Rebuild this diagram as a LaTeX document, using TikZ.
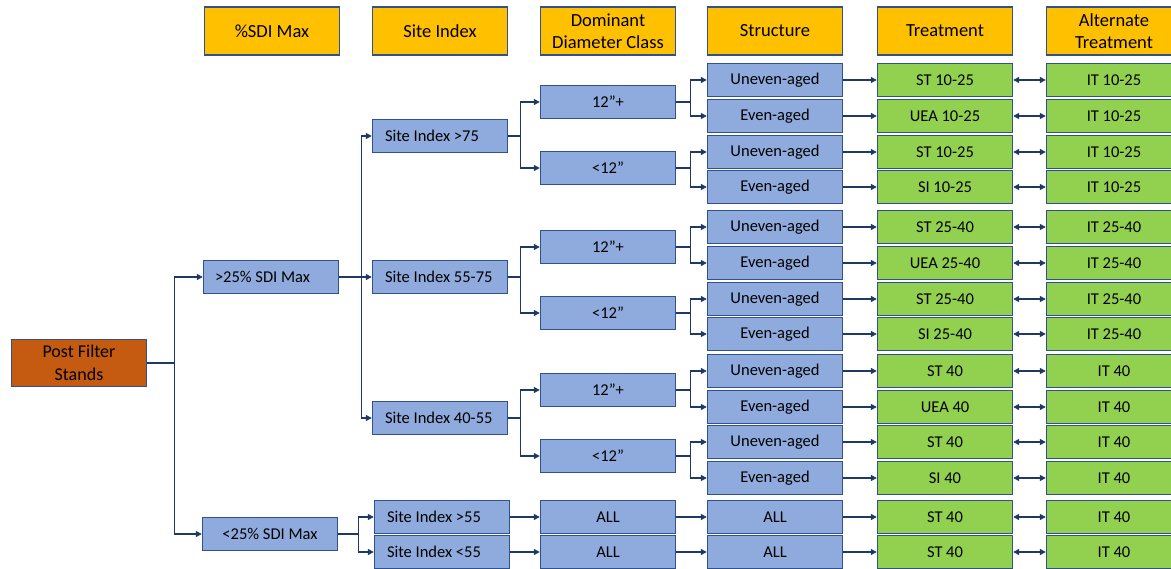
\documentclass[tikz,border=0pt]{standalone}
\usepackage{fontspec}
\setmainfont{Carlito}
\usepackage{xcolor}
\definecolor{hdrGold}{HTML}{FFC000}
\definecolor{boxLine}{HTML}{2F528F}
\definecolor{boxBlue}{HTML}{8FAADC}
\definecolor{boxGreen}{HTML}{92D050}
\definecolor{rust}{HTML}{C55A11}
\definecolor{arrNavy}{HTML}{203864}
\usetikzlibrary{arrows.meta,positioning}

\begin{document}
\begin{tikzpicture}[
  x=1pt,y=-1pt,
  box/.style={draw=boxLine,line width=1.4pt,fill=boxBlue,minimum width=135pt,minimum height=33pt,inner sep=0pt,align=center,font=\fontsize{16.5}{19}\selectfont},
  leftbox/.style={box,text width=110pt,align=flush left},
  hdr/.style={box,fill=hdrGold,minimum height=48pt,font=\fontsize{18.5}{22.5}\selectfont},
  trt/.style={box,fill=boxGreen},
  arr/.style={-{Triangle[length=6pt,width=6pt]},line width=1.3pt,draw=arrNavy},
  dbl/.style={{Triangle[length=6pt,width=6pt]}-{Triangle[length=6pt,width=6pt]},line width=1.3pt,draw=arrNavy}
]
\clip (0,0) rectangle (1171,569);
\node[hdr] (h1) at (272,31) {\%SDI Max};
\node[hdr] (h2) at (440,31) {Site Index};
\node[hdr] (h3) at (608,31) {Dominant\\Diameter Class};
\node[hdr] (h4) at (775,31) {Structure};
\node[hdr] (h5) at (945,31) {Treatment};
\node[hdr] (h6) at (1114,31) {Alternate\\Treatment};

\node[box,fill=rust,minimum height=47pt,font=\fontsize{18}{22.5}\selectfont] (post) at (79,363) {Post Filter\\Stands};
\node[leftbox,text width=112pt] (gt) at (271,277) {>25\% SDI Max};
\node[box] (lt) at (270,534) {<25\% SDI Max};

\node[leftbox] (si1) at (440,136) {Site Index >75};
\node[leftbox] (si2) at (440,277) {Site Index 55-75};
\node[leftbox] (si3) at (440,418) {Site Index 40-55};
\node[leftbox] (si4) at (442,517) {Site Index >55};
\node[leftbox] (si5) at (442,552) {Site Index <55};

\foreach \y/\dc [count=\i] in {102/12”+,168/<12”,247/12”+,313/<12”,390/12”+,456/<12”,517/ALL,552/ALL}
  \node[box] (d\i) at (608,\y) {\dc};

\foreach \y/\st/\tr/\al [count=\i] in {80/Uneven-aged/ST 10-25/IT 10-25,116/Even-aged/UEA 10-25/IT 10-25,
  152/Uneven-aged/ST 10-25/IT 10-25,187/Even-aged/SI 10-25/IT 10-25,227/Uneven-aged/ST 25-40/IT 25-40,
  263/Even-aged/UEA 25-40/IT 25-40,299/Uneven-aged/ST 25-40/IT 25-40,334/Even-aged/SI 25-40/IT 25-40,
  371/Uneven-aged/ST 40/IT 40,407/Even-aged/UEA 40/IT 40,442/Uneven-aged/ST 40/IT 40,
  478/Even-aged/SI 40/IT 40,517/ALL/ST 40/IT 40,552/ALL/ST 40/IT 40}{
  \node[box] (s\i) at (775,\y) {\st};
  \node[trt] (t\i) at (945,\y) {\tr};
  \node[trt] (a\i) at (1114,\y) {\al};
  \draw[arr] (s\i) -- (t\i);
  \draw[dbl] (t\i) -- (a\i);
}

\draw[arr] (post.east) -- ++(27,0) |- (gt.west);
\draw[arr] (post.east) -- ++(27,0) |- (lt.west);
\draw[arr] (gt) -- (si2);
\draw[arr] (gt.east) -- ++(22,0) |- (si1.west);
\draw[arr] (gt.east) -- ++(22,0) |- (si3.west);
\draw[arr] (lt.east) -- ++(20,0) |- (si4.west);
\draw[arr] (lt.east) -- ++(20,0) |- (si5.west);
\foreach \a/\b/\c in {si1/d1/d2,si2/d3/d4,si3/d5/d6}{
  \draw[arr] (\a.east) -- ++(12,0) |- (\b.west);
  \draw[arr] (\a.east) -- ++(12,0) |- (\c.west);
}
\draw[arr] (si4) -- (d7);
\draw[arr] (si5) -- (d8);
\foreach \a/\b/\c in {d1/s1/s2,d2/s3/s4,d3/s5/s6,d4/s7/s8,d5/s9/s10,d6/s11/s12}{
  \draw[arr] (\a.east) -- ++(14,0) |- (\b.west);
  \draw[arr] (\a.east) -- ++(14,0) |- (\c.west);
}
\draw[arr] (d7) -- (s13);
\draw[arr] (d8) -- (s14);
\end{tikzpicture}
\end{document}
